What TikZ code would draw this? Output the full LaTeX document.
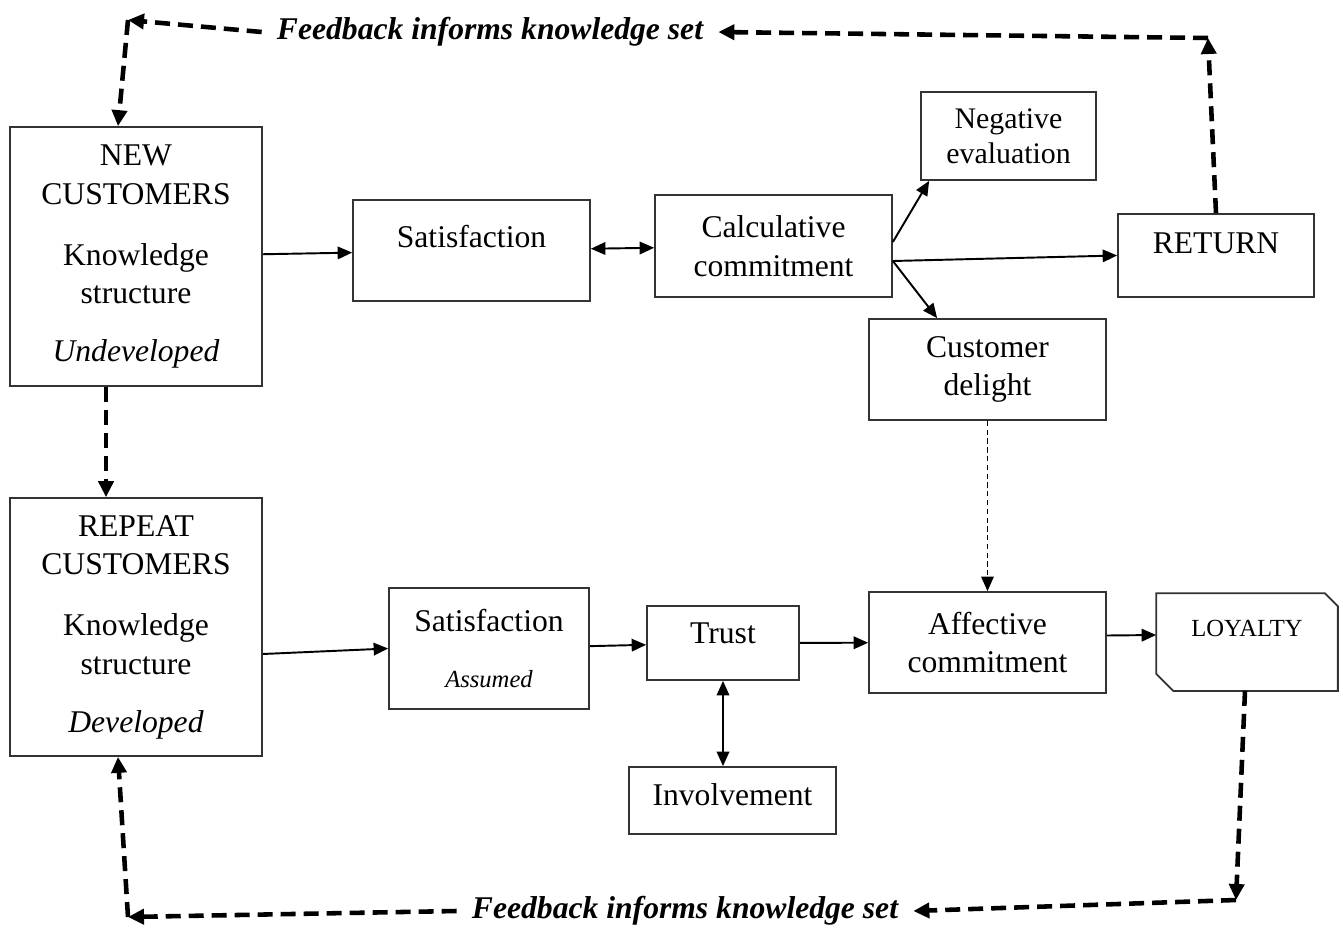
\documentclass[tikz,border=0pt]{standalone}
\usepackage{fontspec}
\setmainfont{Liberation Serif}
\usetikzlibrary{arrows.meta}
\begin{document}
\begin{tikzpicture}[x=0.02cm,y=-0.02cm,
 box/.style={draw=black!80, line width=1pt, align=center, inner sep=0pt, font=\fontsize{18}{22}\selectfont},
 arr/.style={line width=1.1pt, -{Triangle[length=0.29cm,width=0.25cm]}},
 darr/.style={line width=1.1pt, {Triangle[length=0.29cm,width=0.25cm]}-{Triangle[length=0.29cm,width=0.25cm]}},
 fb/.style={line width=2.6pt, dash pattern=on 0.3cm off 0.16cm},
 fbarr/.style={fb, -{Triangle[length=0.32cm,width=0.3cm]}},
 fbtext/.style={font=\fontsize{18}{22}\selectfont\bfseries\itshape, inner xsep=0.3cm, inner ysep=2pt}]
\fill[white] (0,0) rectangle (1343,927);
\useasboundingbox (0,0) rectangle (1343,927);

% nodes
\node[box, minimum width=5.04cm, minimum height=5.18cm] (new) at (136,256.5) {NEW\\CUSTOMERS\\[0.45cm]Knowledge\\structure\\[0.38cm]\textit{Undeveloped}};
\node[box, minimum width=5.04cm, minimum height=5.16cm] (rep) at (136,627) {REPEAT\\CUSTOMERS\\[0.45cm]Knowledge\\structure\\[0.38cm]\textit{Developed}};
\node[box, minimum width=4.74cm, minimum height=2.02cm, text height=0.45cm, text depth=0.58cm] (sat1) at (471.5,250.5) {Satisfaction};
\node[box, minimum width=4.74cm, minimum height=2.04cm] (calc) at (773.5,246) {Calculative\\commitment};
\node[box, minimum width=3.5cm, minimum height=1.76cm, font=\fontsize{17}{20}\selectfont] (neg) at (1008.5,136) {Negative\\evaluation};
\node[box, minimum width=3.92cm, minimum height=1.66cm, text height=0.45cm, text depth=0.54cm] (ret) at (1216,255.5) {RETURN};
\node[box, minimum width=4.74cm, minimum height=2.02cm] (del) at (987.5,369.5) {Customer\\delight};
\node[box, minimum width=4cm, minimum height=2.42cm] (sat2) at (489,648.5) {Satisfaction\\[0.34cm]{\fontsize{14}{17}\selectfont\itshape Assumed}};
\node[box, minimum width=3.04cm, minimum height=1.48cm, text height=0.45cm, text depth=0.42cm] (trust) at (723,643) {Trust};
\node[box, minimum width=4.14cm, minimum height=1.34cm, text height=0.45cm, text depth=0.24cm] (inv) at (732.5,800.5) {Involvement};
\node[box, minimum width=4.74cm, minimum height=2.02cm] (aff) at (987.5,642.5) {Affective\\commitment};
\node[box, draw=none, minimum width=3.6cm, minimum height=1.92cm, font=\fontsize{14}{17}\selectfont, text height=0.35cm, text depth=0.56cm] (loy) at (1247,642) {LOYALTY};
\draw[draw=black!80, line width=1pt] (loy.north west) -- ([xshift=-0.26cm]loy.north east) -- ([yshift=-0.26cm]loy.north east) -- (loy.south east) -- ([xshift=0.34cm]loy.south west) -- ([yshift=0.34cm]loy.south west) -- cycle;

\node[fbtext] (fb1) at (490,32) {Feedback informs knowledge set};
\node[fbtext] (fb2) at (685,911) {Feedback informs knowledge set};

\coordinate (c1) at (1208,38);
\coordinate (c2) at (128,20);
\coordinate (c3) at (1236,900);
\coordinate (c4) at (128,917);

% solid connectors
\draw[arr] (new) -- (sat1);
\draw[darr] (sat1) -- (calc);
\draw[arr] ([yshift=0.08cm]calc.east) -- ([xshift=0.18cm]neg.south west);
\draw[arr] ([yshift=-0.3cm]calc.east) -- (ret.west);
\draw[arr] ([yshift=-0.3cm]calc.east) -- ([xshift=1.38cm]del.north west);
\draw[arr, line width=0.9pt, dash pattern=on 3pt off 2pt] (del) -- (aff);
\draw[arr] ([yshift=-0.54cm]rep.east) -- (sat2.west);
\draw[arr] (sat2) -- (trust);
\draw[arr] (trust) -- (aff);
\draw[darr] (trust.south) -- (trust.south |- inv.north);
\draw[arr] ([yshift=0.14cm]aff.east) -- ([yshift=0.14cm]loy.west);

% feedback loops
\draw[fbarr] (ret.north) -- (c1);
\draw[fbarr] (c1) -- (fb1.east);
\draw[fbarr] (fb1.west) -- (c2);
\draw[fbarr] (c2) -- ([xshift=-0.36cm]new.north);
\draw[fbarr] ([xshift=-0.6cm]new.south) -- ([xshift=-0.6cm]rep.north);
\draw[fbarr] ([xshift=-0.04cm]loy.south) -- (c3);
\draw[fbarr] (c3) -- (fb2.east);
\draw[fbarr] (fb2.west) -- (c4);
\draw[fbarr] (c4) -- ([xshift=-0.36cm]rep.south);
\end{tikzpicture}
\end{document}
